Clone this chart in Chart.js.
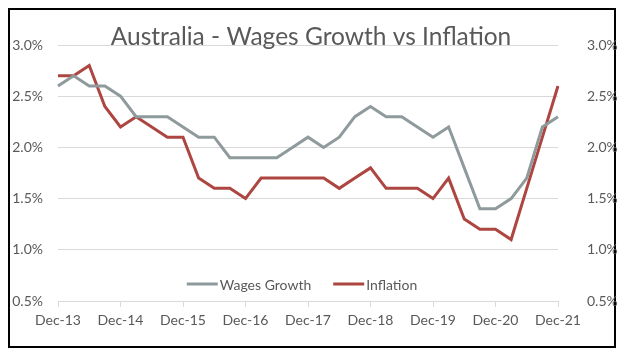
<!DOCTYPE html>
<html>
<head>
<meta charset="utf-8">
<script src="https://cdn.jsdelivr.net/npm/chart.js@4/dist/chart.umd.min.js"></script>
<style>
  html, body { margin: 0; padding: 0; background: #fff; }
  #frame {
    position: absolute; left: 8px; top: 8px;
    width: 604px; height: 336px;
    border: 2px solid #000;
  }
  #chart { position: absolute; left: 0; top: 0; }
</style>
</head>
<body>
<div id="frame"></div>
<canvas id="chart" width="626" height="354"></canvas>
<script>
// quarterly labels, only the Dec ones are shown on the axis
const quarters = [
    'Dec-13', 'Mar-14', 'Jun-14', 'Sep-14',
    'Dec-14', 'Mar-15', 'Jun-15', 'Sep-15',
    'Dec-15', 'Mar-16', 'Jun-16', 'Sep-16',
    'Dec-16', 'Mar-17', 'Jun-17', 'Sep-17',
    'Dec-17', 'Mar-18', 'Jun-18', 'Sep-18',
    'Dec-18', 'Mar-19', 'Jun-19', 'Sep-19',
    'Dec-19', 'Mar-20', 'Jun-20', 'Sep-20',
    'Dec-20', 'Mar-21', 'Jun-21', 'Sep-21',
    'Dec-21'
];

const wagesGrowth = [
    2.6, 2.7, 2.6, 2.6,
    2.5, 2.3, 2.3, 2.3,
    2.2, 2.1, 2.1, 1.9,
    1.9, 1.9, 1.9, 2.0,
    2.1, 2.0, 2.1, 2.3,
    2.4, 2.3, 2.3, 2.2,
    2.1, 2.2, 1.8, 1.4,
    1.4, 1.5, 1.7, 2.2,
    2.3
];

const inflation = [
    2.7, 2.7, 2.8, 2.4,
    2.2, 2.3, 2.2, 2.1,
    2.1, 1.7, 1.6, 1.6,
    1.5, 1.7, 1.7, 1.7,
    1.7, 1.7, 1.6, 1.7,
    1.8, 1.6, 1.6, 1.6,
    1.5, 1.7, 1.3, 1.2,
    1.2, 1.1, 1.6, 2.1,
    2.6
];

const yTicks = [0.5, 1.0, 1.5, 2.0, 2.5, 3.0];

const titleText = 'Australia - Wages Growth vs Inflation';
const textColor = '#595959';
const gridColor = '#d9d9d9';
const fontFamily = 'Lato, "Liberation Sans", sans-serif';

// title + legend drawn inside the plot area, like the Excel original
const overlayPlugin = {
    id: 'overlay',
    afterDatasetsDraw(chart) {
        const ctx = chart.ctx;
        ctx.save();

        // title, baseline sits on the top gridline
        ctx.font = '24.5px ' + fontFamily;
        ctx.fillStyle = textColor;
        ctx.textAlign = 'center';
        ctx.textBaseline = 'alphabetic';
        ctx.fillText(titleText, chart.width / 2 - 2, chart.chartArea.top);

        // legend
        ctx.font = '14px ' + fontFamily;
        ctx.textAlign = 'left';
        ctx.textBaseline = 'middle';
        const lineLen = 31, gap = 2, itemGap = 22;
        const items = chart.data.datasets.map(ds => ({
            label: ds.label,
            color: ds.borderColor,
            w: lineLen + gap + ctx.measureText(ds.label).width
        }));
        const total = items.reduce((s, it) => s + it.w, 0) + itemGap * (items.length - 1);
        let x = 302 - total / 2;
        const y = chart.chartArea.bottom - 17;
        items.forEach(it => {
            ctx.strokeStyle = it.color;
            ctx.lineWidth = 3;
            ctx.beginPath();
            ctx.moveTo(x, y);
            ctx.lineTo(x + lineLen, y);
            ctx.stroke();
            ctx.fillStyle = textColor;
            ctx.fillText(it.label, x + lineLen + gap, y + 1);
            x += it.w + itemGap;
        });
        ctx.restore();
    }
};

const pctTick = v => Number(v).toFixed(1) + '%';

new Chart(document.getElementById('chart'), {
    type: 'line',
    data: {
        labels: quarters,
        datasets: [{
            label: 'Wages Growth',
            data: wagesGrowth,
            borderColor: '#8f9a9c',
            borderWidth: 3,
            pointRadius: 0,
            tension: 0,
            yAxisID: 'y'
        }, {
            label: 'Inflation',
            data: inflation,
            borderColor: '#ad4541',
            borderWidth: 3,
            pointRadius: 0,
            tension: 0,
            yAxisID: 'y'
        }]
    },
    options: {
        responsive: false,
        animation: false,
        events: [],
        layout: {
            padding: { top: 45, left: 0, right: 0, bottom: 0 }
        },
        scales: {
            x: {
                offset: false,
                grid: {
                    drawOnChartArea: false,
                    drawTicks: true,
                    tickLength: 6,
                    color: ctx => (ctx.index % 4 === 0 ? gridColor : 'rgba(0,0,0,0)')
                },
                border: { display: false },
                ticks: {
                    autoSkip: false,
                    maxRotation: 0,
                    padding: 5,
                    color: textColor,
                    font: { family: fontFamily, size: 14 },
                    callback: function(value, index) {
                        return index % 4 === 0 ? this.getLabelForValue(value) : '';
                    }
                },
                afterFit: scale => { scale.height = 53; }
            },
            y: {
                position: 'left',
                min: 0.5,
                max: 3.0,
                afterBuildTicks: scale => { scale.ticks = yTicks.map(v => ({ value: v })); },
                grid: { color: gridColor, drawTicks: false, lineWidth: 1 },
                border: { display: false },
                ticks: {
                    padding: 15,
                    color: textColor,
                    font: { family: fontFamily, size: 14 },
                    callback: pctTick
                },
                afterFit: scale => { scale.width = 58; }
            },
            y2: {
                position: 'right',
                min: 0.5,
                max: 3.0,
                afterBuildTicks: scale => { scale.ticks = yTicks.map(v => ({ value: v })); },
                grid: { display: false },
                border: { display: false },
                ticks: {
                    padding: 21,
                    color: textColor,
                    font: { family: fontFamily, size: 14 },
                    callback: pctTick
                },
                afterFit: scale => { scale.width = 68; }
            }
        },
        plugins: {
            legend: { display: false },
            title: { display: false },
            tooltip: { enabled: false }
        }
    },
    plugins: [overlayPlugin]
});
</script>
</body>
</html>
